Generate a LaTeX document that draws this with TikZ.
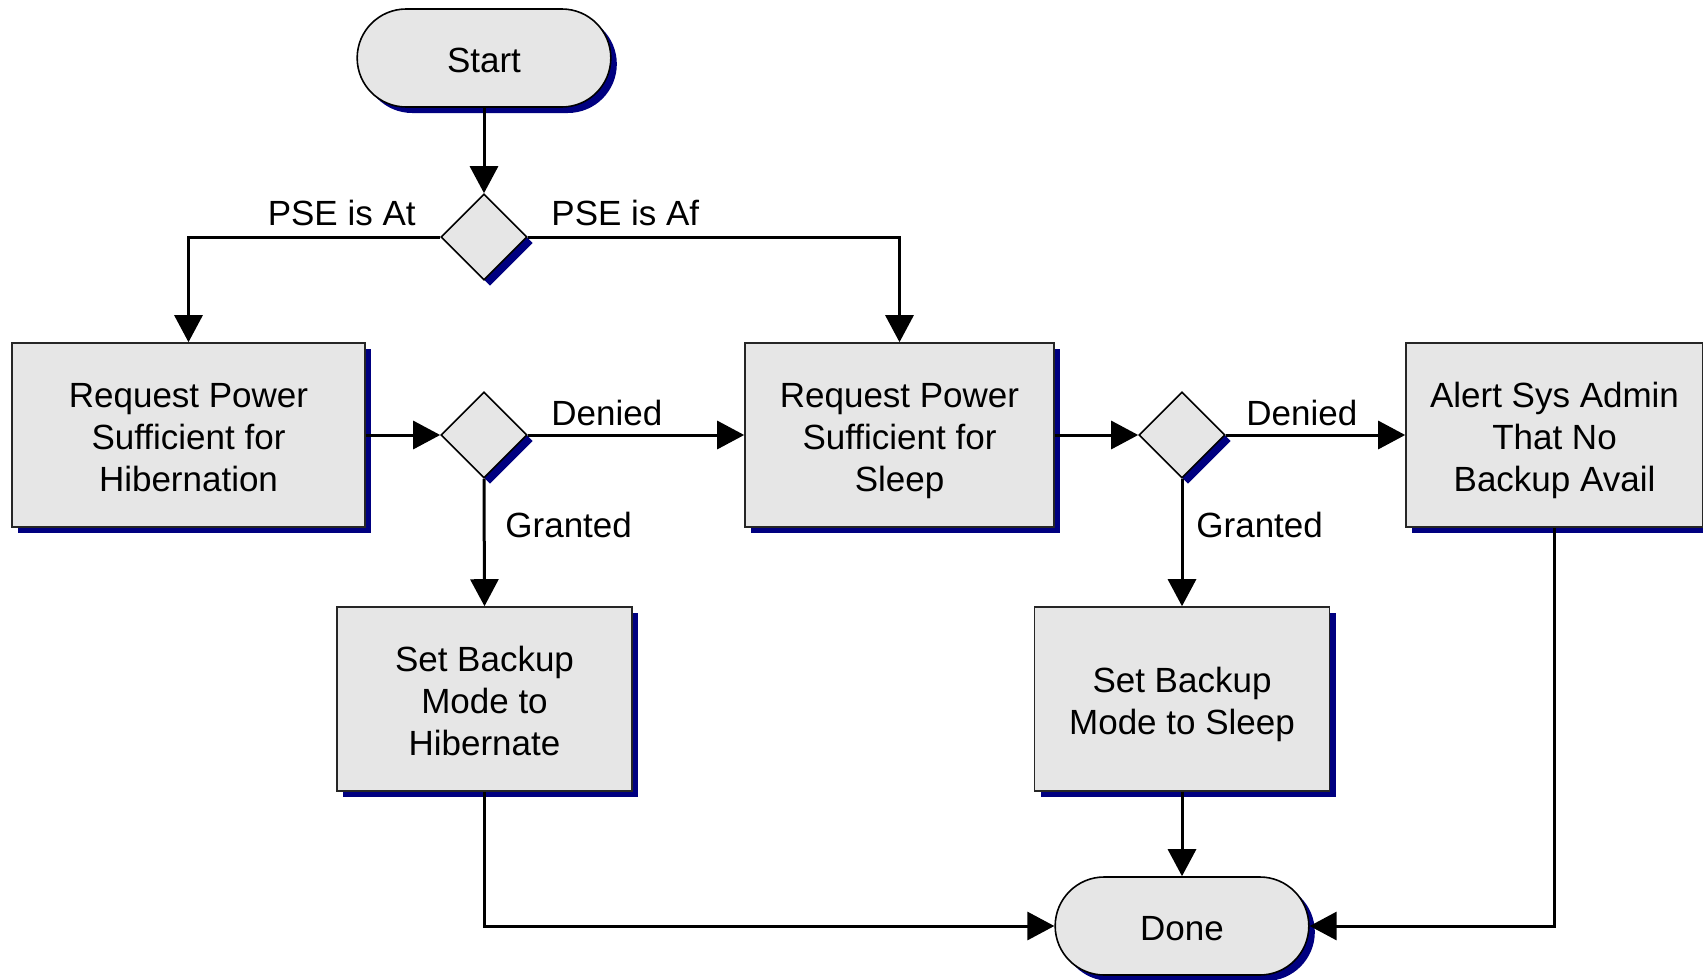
\documentclass[tikz,border=0pt]{standalone}
\usepackage{fontspec}
\setmainfont{Liberation Sans}
\usetikzlibrary{shapes.geometric,shapes.misc,arrows.meta,shadows}
\definecolor{boxfill}{RGB}{230,230,230}
\definecolor{shadownavy}{RGB}{0,0,128}
\newcommand\mytopstrut{\rule{0pt}{18.5pt}}
\newcommand\mybotstrut{\rule[-4pt]{0pt}{0pt}}
\begin{document}
\begin{tikzpicture}[x=0.5pt,y=-0.5pt,
  txt/.style={font=\fontsize{17.5}{21.2}\selectfont},
  shad/.style={drop shadow={shadow xshift=3pt, shadow yshift=-3pt, fill=shadownavy, opacity=1}},
  stepbox/.style={rectangle, draw=black!85, line width=0.8pt, fill=boxfill, align=center, txt, shad, minimum height=92pt, inner sep=0pt},
  term/.style={rounded rectangle, draw=black, line width=0.8pt, fill=boxfill, txt, shad, minimum width=133.5pt, minimum height=49pt},
  dec/.style={diamond, draw=black, line width=0.8pt, fill=boxfill, shad, minimum width=43pt, minimum height=43pt, inner sep=0pt},
  arr/.style={line width=1.5pt, -{Triangle[length=13.5pt,width=14pt]}},
  lbl/.style={txt, inner sep=0pt}
]
\useasboundingbox (0,0) rectangle (1703,980);

\node[term] (start) at (484,58) {\mytopstrut Start\mybotstrut};
\node[dec] (d1) at (484,237) {};
\node[stepbox, minimum width=176.5pt] (b1) at (188.5,435) {\mytopstrut Request Power\\Sufficient for\\Hibernation\mybotstrut};
\node[dec] (d2) at (484,435) {};
\node[stepbox, minimum width=154.5pt] (b2) at (899.5,435) {\mytopstrut Request Power\\Sufficient for\\Sleep\mybotstrut};
\node[dec] (d3) at (1182,435) {};
\node[stepbox, minimum width=148.5pt] (b3) at (1554.5,435) {\mytopstrut Alert Sys Admin\\That No\\Backup Avail\mybotstrut};
\node[stepbox, minimum width=147.5pt] (b4) at (484.5,699) {\mytopstrut Set Backup\\Mode to\\Hibernate\mybotstrut};
\node[stepbox, minimum width=147.5pt] (b5) at (1182,699) {\mytopstrut Set Backup\\Mode to Sleep\mybotstrut};
\node[term] (done) at (1182,926) {\mytopstrut Done\mybotstrut};

\draw[arr] (start.south) -- (d1.north);
\draw[arr] (d1.west) -| (b1.north);
\draw[arr] (d1.east) -| (b2.north);
\draw[arr] (b1.east) -- (d2.west);
\draw[arr] (d2.east) -- (b2.west);
\draw[arr] (d2.south) -- (b4.north);
\draw[arr] (b2.east) -- (d3.west);
\draw[arr] (d3.east) -- (b3.west);
\draw[arr] (d3.south) -- (b5.north);
\draw[arr] (b5.south) -- (done.north);
\draw[arr] (b4.south) |- (done.west);
\draw[arr] (b3.south) |- (done.east);

\node[lbl, anchor=base east] (l1) at (416,225) {PSE is At};
\node[lbl, anchor=base west] (l2) at (551,225) {PSE is Af};
\node[lbl, anchor=base west] (l3) at (551,425) {Denied};
\node[lbl, anchor=base west] (l4) at (505,537) {Granted};
\node[lbl, anchor=base west] (l5) at (1246,425) {Denied};
\node[lbl, anchor=base west] (l6) at (1196,537) {Granted};
\end{tikzpicture}
\end{document}
